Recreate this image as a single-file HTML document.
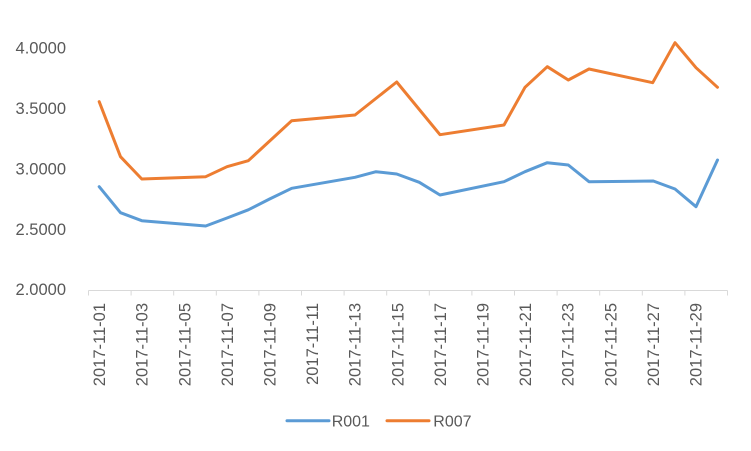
<!DOCTYPE html>
<html>
<head>
<meta charset="utf-8">
<style>
  html, body { margin: 0; padding: 0; background: #ffffff; }
  svg { display: block; }
  text { font-family: "Liberation Sans", sans-serif; font-size: 16px; fill: #595959; }
  .ax { font-size: 16.5px; }
</style>
</head>
<body>
<svg width="751" height="451" viewBox="0 0 751 451" xmlns="http://www.w3.org/2000/svg">
  <rect x="0" y="0" width="751" height="451" fill="#ffffff"/>

  <!-- Y axis labels -->
  <g text-anchor="end" class="ax">
    <text class="ax" x="66" y="53.6">4.0000</text>
    <text class="ax" x="66" y="114">3.5000</text>
    <text class="ax" x="66" y="174.4">3.0000</text>
    <text class="ax" x="66" y="234.8">2.5000</text>
    <text class="ax" x="66" y="295.2">2.0000</text>
  </g>

  <!-- X axis line and ticks -->
  <g stroke="#D9D9D9" stroke-width="1" fill="none">
    <line x1="88.5" y1="290.5" x2="727.5" y2="290.5"/>
    <line x1="88.5" y1="290.5" x2="88.5" y2="295.5"/>
    <line x1="131.1" y1="290.5" x2="131.1" y2="295.5"/>
    <line x1="173.7" y1="290.5" x2="173.7" y2="295.5"/>
    <line x1="216.3" y1="290.5" x2="216.3" y2="295.5"/>
    <line x1="258.9" y1="290.5" x2="258.9" y2="295.5"/>
    <line x1="301.5" y1="290.5" x2="301.5" y2="295.5"/>
    <line x1="344.1" y1="290.5" x2="344.1" y2="295.5"/>
    <line x1="386.7" y1="290.5" x2="386.7" y2="295.5"/>
    <line x1="429.3" y1="290.5" x2="429.3" y2="295.5"/>
    <line x1="471.9" y1="290.5" x2="471.9" y2="295.5"/>
    <line x1="514.5" y1="290.5" x2="514.5" y2="295.5"/>
    <line x1="557.1" y1="290.5" x2="557.1" y2="295.5"/>
    <line x1="599.7" y1="290.5" x2="599.7" y2="295.5"/>
    <line x1="642.3" y1="290.5" x2="642.3" y2="295.5"/>
    <line x1="684.9" y1="290.5" x2="684.9" y2="295.5"/>
    <line x1="727.5" y1="290.5" x2="727.5" y2="295.5"/>
  </g>

  <!-- X axis labels (rotated) -->
  <g text-anchor="end">
    <text class="ax" transform="translate(105.1,303) rotate(-90)">2017-11-01</text>
    <text class="ax" transform="translate(147.7,303) rotate(-90)">2017-11-03</text>
    <text class="ax" transform="translate(190.3,303) rotate(-90)">2017-11-05</text>
    <text class="ax" transform="translate(232.9,303) rotate(-90)">2017-11-07</text>
    <text class="ax" transform="translate(275.5,303) rotate(-90)">2017-11-09</text>
    <text class="ax" transform="translate(318.1,303) rotate(-90)">2017-11-11</text>
    <text class="ax" transform="translate(360.7,303) rotate(-90)">2017-11-13</text>
    <text class="ax" transform="translate(403.3,303) rotate(-90)">2017-11-15</text>
    <text class="ax" transform="translate(445.9,303) rotate(-90)">2017-11-17</text>
    <text class="ax" transform="translate(488.5,303) rotate(-90)">2017-11-19</text>
    <text class="ax" transform="translate(531.1,303) rotate(-90)">2017-11-21</text>
    <text class="ax" transform="translate(573.7,303) rotate(-90)">2017-11-23</text>
    <text class="ax" transform="translate(616.3,303) rotate(-90)">2017-11-25</text>
    <text class="ax" transform="translate(658.9,303) rotate(-90)">2017-11-27</text>
    <text class="ax" transform="translate(701.5,303) rotate(-90)">2017-11-29</text>
  </g>

  <!-- R007 series -->
  <polyline fill="none" stroke="#ED7D31" stroke-width="3" stroke-linejoin="round" stroke-linecap="round"
    points="99.2,101.7 120.5,156.7 141.8,179 205.7,176.7 227,166.7 248.3,160.7 291.7,120.7 355,115 396.7,82 440,134.7 504,125 525,87.3 547.3,66.7 568.3,80 589,69 652.7,82.7 675,42.7 696,67.7 717.5,87.3"/>

  <!-- R001 series -->
  <polyline fill="none" stroke="#5B9BD5" stroke-width="3" stroke-linejoin="round" stroke-linecap="round"
    points="99.2,186.7 120.5,212.7 141.8,220.7 205.7,226 227,218 248.3,209.8 269.6,199 291.7,188.3 355,177.3 376,171.7 396.7,174 419.3,182.3 440,195 504,181.7 525,171.7 547.3,162.7 568.3,165 589,181.7 653.3,181 675,189 696,206.7 717.5,160"/>

  <!-- Legend -->
  <line x1="287" y1="420.7" x2="329" y2="420.7" stroke="#5B9BD5" stroke-width="3" stroke-linecap="round"/>
  <text x="331.7" y="426.4">R001</text>
  <line x1="387" y1="420.7" x2="429" y2="420.7" stroke="#ED7D31" stroke-width="3" stroke-linecap="round"/>
  <text x="433.3" y="426.4">R007</text>
</svg>
</body>
</html>
